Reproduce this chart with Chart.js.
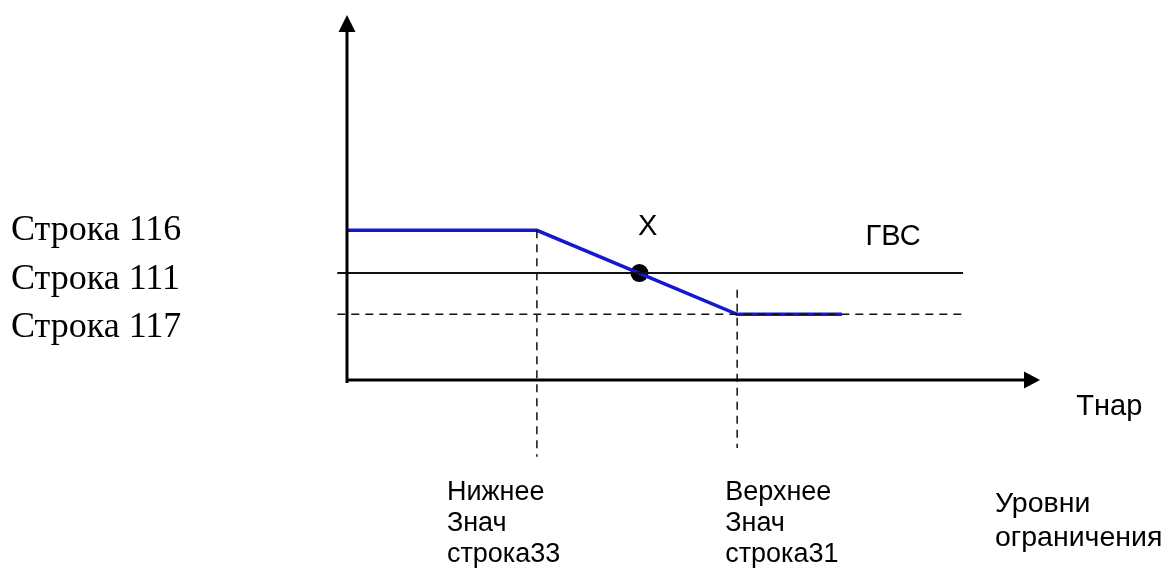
<!DOCTYPE html>
<html>
<head>
<meta charset="utf-8">
<script src="https://cdn.jsdelivr.net/npm/chart.js@4.4.1/dist/chart.umd.min.js"></script>
<style>
  body { margin: 0; background: #fff; }
</style>
</head>
<body>
<canvas id="diagram" width="1169" height="571"></canvas>
<script>
// levels (abstract units, 0..100 on both axes)
const levelNames = ['Строка 116', 'Строка 111', 'Строка 117'];
const levelValues = [41, 29.3, 18];
const limitX = [27.4, 56.3];          // Нижнее / Верхнее значение
const limitNames = [['Нижнее', 'Знач', 'строка33'], ['Верхнее', 'Знач', 'строка31']];
const curveX = [0, 27.4, 56.3, 71.4];  // синяя линия ГВС
const curveY = [41, 41, 18, 18];
const pointX = [42.2];
const pointY = [29.3];
const levelLineX = [-1.4, 88.9];

const blue = '#1717cf';

const curve = curveX.map((x, i) => ({ x: x, y: curveY[i] }));

const diagramText = {
    id: 'diagramText',
    afterDraw(chart) {
        const ctx = chart.ctx;
        const xs = chart.scales.x;
        const ys = chart.scales.y;
        const px = v => xs.getPixelForValue(v);
        const py = v => ys.getPixelForValue(v);

        ctx.save();
        // axes with arrows
        ctx.strokeStyle = '#000';
        ctx.fillStyle = '#000';
        ctx.lineWidth = 3;
        ctx.beginPath();
        ctx.moveTo(px(0), py(0) + 3);
        ctx.lineTo(px(0), py(100) + 14);
        ctx.moveTo(px(0), py(0));
        ctx.lineTo(px(100) - 14, py(0));
        ctx.stroke();
        ctx.beginPath();
        ctx.moveTo(px(0), py(100));
        ctx.lineTo(px(0) - 8.5, py(100) + 17);
        ctx.lineTo(px(0) + 8.5, py(100) + 17);
        ctx.closePath();
        ctx.fill();
        ctx.beginPath();
        ctx.moveTo(px(100), py(0));
        ctx.lineTo(px(100) - 16, py(0) - 8.5);
        ctx.lineTo(px(100) - 16, py(0) + 8.5);
        ctx.closePath();
        ctx.fill();

        // left labels
        ctx.font = '36px "Liberation Serif"';
        ctx.textBaseline = 'alphabetic';
        ctx.textAlign = 'left';
        levelNames.forEach((name, i) => {
            ctx.fillText(name, 11, py(levelValues[0]) + 10 + i * 48.5);
        });

        ctx.font = '29px "Liberation Sans"';
        ctx.textAlign = 'center';
        ctx.fillText('X', px(43.4), py(41) + 5);
        ctx.fillText('ГВС', px(78.8), py(41) + 15);
        ctx.fillText('Тнар', px(110), py(0) + 35);

        ctx.font = '27px "Liberation Sans"';
        ctx.textAlign = 'left';
        const labelShift = [-90, -12];
        limitX.forEach((x, k) => {
            limitNames[k].forEach((line, i) => {
                ctx.fillText(line, px(x) + labelShift[k], py(0) + 120 + i * 31);
            });
        });
        ctx.font = '28.5px "Liberation Sans"';
        ctx.fillText('Уровни', 995, py(0) + 132);
        ctx.fillText('ограничения', 995, py(0) + 166);
        ctx.restore();
    }
};

new Chart(document.getElementById('diagram'), {
    type: 'scatter',
    data: {
        datasets: [
            {
                // Строка 111
                data: levelLineX.map(x => ({ x: x, y: levelValues[1] })),
                showLine: true,
                borderColor: '#111',
                borderWidth: 2,
                pointRadius: 0,
                clip: false
            },
            {
                // Строка 117
                data: levelLineX.map(x => ({ x: x, y: levelValues[2] })),
                showLine: true,
                borderColor: '#111',
                borderWidth: 1.5,
                borderDash: [8, 6],
                pointRadius: 0,
                clip: false
            },
            {
                data: [{ x: limitX[0], y: levelValues[0] }, { x: limitX[0], y: -21 }],
                showLine: true,
                borderColor: '#111',
                borderWidth: 1.5,
                borderDash: [8, 6],
                pointRadius: 0,
                clip: false
            },
            {
                data: [{ x: limitX[1], y: 24.7 }, { x: limitX[1], y: -18.6 }],
                showLine: true,
                borderColor: '#111',
                borderWidth: 1.5,
                borderDash: [8, 6],
                pointRadius: 0,
                clip: false
            },
            {
                // ГВС
                data: curve,
                showLine: true,
                borderColor: blue,
                borderWidth: 3.5,
                pointRadius: 0,
                clip: false
            },
            {
                data: pointX.map((x, i) => ({ x: x, y: pointY[i] })),
                pointRadius: 9,
                pointBackgroundColor: '#000',
                pointBorderWidth: 0,
                clip: false
            }
        ]
    },
    options: {
        responsive: false,
        animation: false,
        layout: { padding: { left: 347, right: 129, top: 15, bottom: 191 } },
        plugins: {
            legend: { display: false },
            tooltip: { enabled: false }
        },
        scales: {
            x: { type: 'linear', min: 0, max: 100, display: false },
            y: { type: 'linear', min: 0, max: 100, display: false }
        }
    },
    plugins: [diagramText]
});
</script>
</body>
</html>
